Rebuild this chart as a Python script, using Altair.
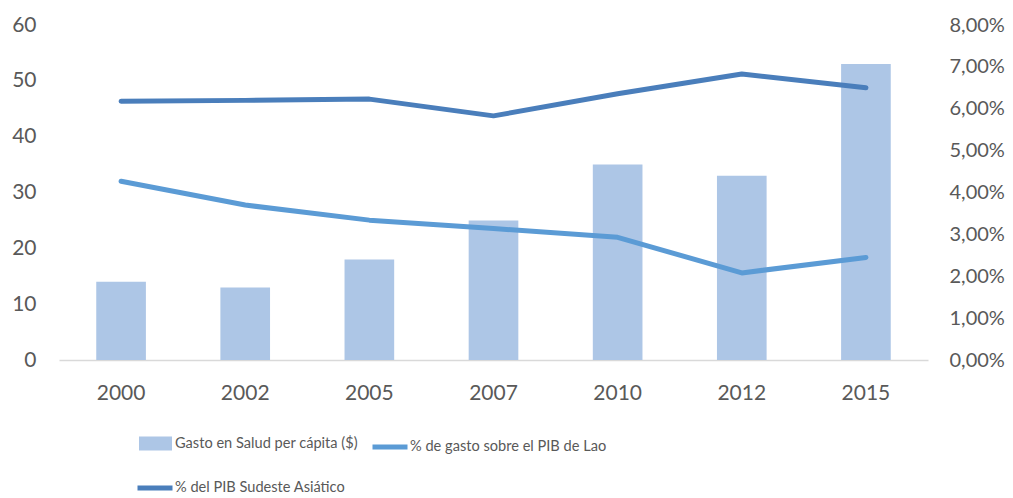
import altair as alt
import pandas as pd

years = ["2000", "2002", "2005", "2007", "2010", "2012", "2015"]
gasto = [14, 13, 18, 25, 35, 33, 53]
lao_pct = [0.0427, 0.0370, 0.0334, 0.0314, 0.0293, 0.0208, 0.0245]
sudeste_pct = [0.0618, 0.0620, 0.0623, 0.0583, 0.0636, 0.0683, 0.0650]

name_bar = "Gasto en Salud per cápita ($)"
name_lao = "% de gasto sobre el PIB de Lao"
name_sud = "% del PIB Sudeste Asiático"

df = pd.DataFrame({
    "year": years,
    "gasto": gasto,
    "lao": lao_pct,
    "sud": sudeste_pct,
    "s_bar": name_bar,
    "s_lao": name_lao,
    "s_sud": name_sud,
})

FONT = "Lato"
GREY = "#595959"
LEG_FS = 14.6

x = alt.X("year:N", sort=years,
          scale=alt.Scale(paddingInner=0.6, paddingOuter=0.3),
          axis=alt.Axis(title=None, labelAngle=0, labelFontSize=21, labelColor=GREY,
                        labelFont=FONT, labelPadding=22, ticks=False, grid=False,
                        domainColor="#d9d9d9", domainWidth=1.5))

base = alt.Chart(df)

bars = base.mark_bar(color="#adc6e6").encode(
    x=x,
    y=alt.Y("gasto:Q", scale=alt.Scale(domain=[0, 60], nice=False),
            axis=alt.Axis(title=None, values=[0, 10, 20, 30, 40, 50, 60], orient="left",
                          labelFontSize=21, labelColor=GREY, labelFont=FONT,
                          labelPadding=23, ticks=False, domain=False, grid=False)),
    color=alt.Color("s_bar:N",
                    scale=alt.Scale(domain=[name_bar], range=["#adc6e6"]),
                    legend=alt.Legend(title=None, orient="none", legendX=80, legendY=402,
                                      symbolType="M-1,-0.42H1V0.42H-1Z", symbolSize=1089,
                                      symbolStrokeWidth=0, symbolOpacity=1,
                                      labelFontSize=LEG_FS, labelFont=FONT, labelColor=GREY,
                                      labelOffset=3, labelLimit=0, padding=0)),
)

yr_axis = alt.Axis(title=None, orient="right", values=[0, 0.01, 0.02, 0.03, 0.04, 0.05, 0.06, 0.07, 0.08],
                   labelExpr="replace(format(datum.value, '.2%'), '.', ',')",
                   labelFontSize=20, labelColor=GREY, labelFont=FONT,
                   labelPadding=21, ticks=False, domain=False, grid=False)

lao = base.mark_line(strokeWidth=5, strokeCap="round", strokeJoin="round").encode(
    x=x,
    y=alt.Y("lao:Q", scale=alt.Scale(domain=[0, 0.08], nice=False), axis=yr_axis),
    color=alt.Color("s_lao:N",
                    scale=alt.Scale(domain=[name_lao], range=["#5b9bd5"]),
                    legend=alt.Legend(title=None, orient="none", legendX=311, legendY=402,
                                      symbolType="stroke", symbolSize=1225, symbolStrokeWidth=5,
                                      labelFontSize=LEG_FS, labelFont=FONT, labelColor=GREY,
                                      labelOffset=0, labelLimit=0, padding=0)),
)

sud = base.mark_line(strokeWidth=5, strokeCap="round", strokeJoin="round").encode(
    x=x,
    y=alt.Y("sud:Q", scale=alt.Scale(domain=[0, 0.08], nice=False), axis=None),
    color=alt.Color("s_sud:N",
                    scale=alt.Scale(domain=[name_sud], range=["#4a7ebb"]),
                    legend=alt.Legend(title=None, orient="none", legendX=76, legendY=443,
                                      symbolType="stroke", symbolSize=1225, symbolStrokeWidth=5,
                                      labelFontSize=LEG_FS, labelFont=FONT, labelColor=GREY,
                                      labelOffset=0, labelLimit=0, padding=0)),
)

chart = alt.layer(bars, lao, sud).resolve_scale(
    y="independent", color="independent"
).properties(
    width=869, height=335,
    autosize=alt.AutoSizeParams(type="none"),
    padding={"left": 51, "top": 17, "right": 77, "bottom": 138},
).configure(font=FONT).configure_view(strokeWidth=0, stroke=None)

chart.save("out.html", embed_options={"renderer": "svg", "actions": False})
